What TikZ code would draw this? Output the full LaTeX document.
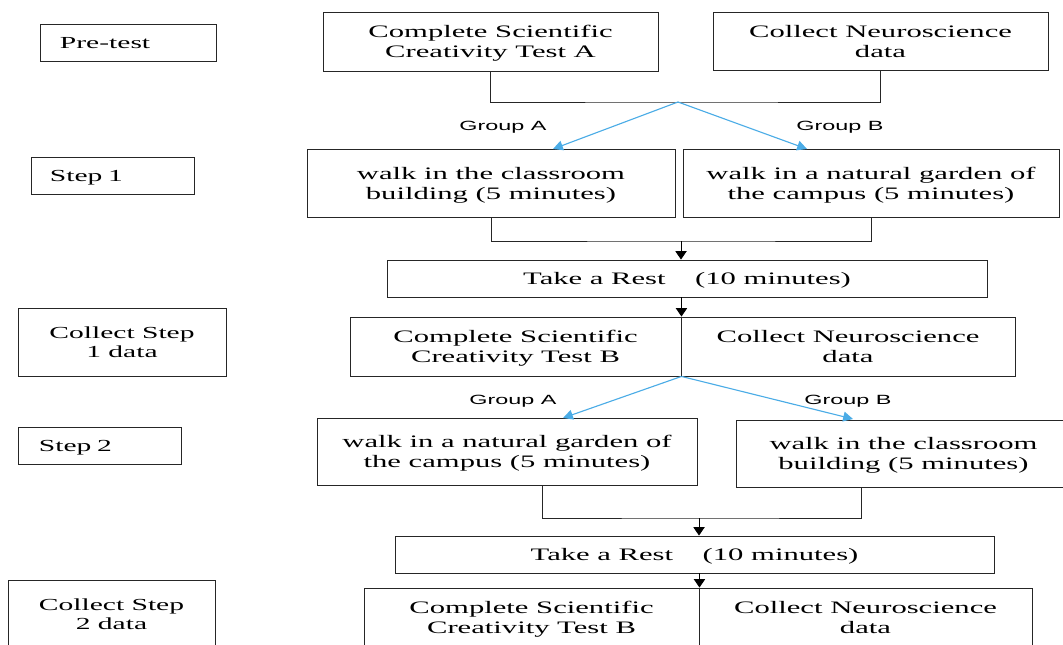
\documentclass[tikz,border=0pt]{standalone}
\usepackage{fontspec}
\setmainfont{Liberation Serif}[FakeStretch=1.75]
\newfontfamily\grpfont{Liberation Sans}[FakeStretch=1.75]
\usetikzlibrary{arrows.meta}
\definecolor{grpblue}{RGB}{75,172,230}
\tikzset{
  box/.style={draw=black!85, line width=0.6pt, inner sep=0pt, align=center, text depth=0pt,
    font=\fontsize{12.45pt}{14.2pt}\selectfont},
  sidebox/.style={box, font=\fontsize{12pt}{13.8pt}\selectfont},
  grp/.style={font=\grpfont\fontsize{9.5pt}{11pt}\selectfont},
  blu/.style={draw=grpblue, line width=0.8pt, -{Triangle[length=7pt,width=7pt]}},
  blk/.style={draw=black, line width=0.7pt, -{Triangle[length=6pt,width=8pt]}},
  lnk/.style={draw=black!85, line width=0.6pt}
}

\begin{document}
\begin{tikzpicture}[x=0.025cm, y=-0.025cm]
  \useasboundingbox (0,0) rectangle (1063,644);
  \clip (0,0) rectangle (1063,644);
  % stage names on the left
  \node[sidebox, align=left, text width=3.4cm, inner xsep=0.5cm, minimum height=0.925cm] (pre) at (128,43) {Pre-test};
  \node[sidebox, align=left, text width=3.125cm, inner xsep=0.475cm, minimum height=0.925cm] (st1) at (112.5,175.8) {Step 1};
  \node[sidebox, minimum width=5.2cm, minimum height=1.7cm] (cs1) at (122,342) {Collect Step\\1 data};
  \node[sidebox, align=left, text width=3.025cm, inner xsep=0.525cm, minimum height=0.925cm] (st2) at (99.5,445.5) {Step 2};
  \node[sidebox, minimum width=5.175cm, minimum height=1.7cm] (cs2) at (111.5,614) {Collect Step\\2 data};

  % procedure
  \node[box, minimum width=8.375cm, minimum height=1.475cm] (tA) at (490.5,41.5) {Complete Scientific\\Creativity Test A};
  \node[box, minimum width=8.375cm, minimum height=1.45cm] (nd1) at (880.5,41) {Collect Neuroscience\\data};
  \node[box, minimum width=9.2cm, minimum height=1.7cm] (wc1) at (491,183) {walk in the classroom\\building (5 minutes)};
  \node[box, minimum width=9.4cm, minimum height=1.7cm] (wg1) at (871,183) {walk in a natural garden of\\the campus (5 minutes)};
  \node[box, minimum width=15cm, minimum height=0.925cm] (rst1) at (687,278.5) {Take a Rest\hspace{21pt}(10 minutes)};
  \node[box, minimum width=8.275cm, minimum height=1.475cm] (tB1) at (515.5,346.5) {Complete Scientific\\Creativity Test B};
  \node[box, minimum width=8.35cm, minimum height=1.475cm] (nd2) at (848,346.5) {Collect Neuroscience\\data};
  \node[box, minimum width=9.5cm, minimum height=1.675cm] (wg2) at (507,451.5) {walk in a natural garden of\\the campus (5 minutes)};
  \node[box, minimum width=8.375cm, minimum height=1.675cm] (wc2) at (903.5,453.5) {walk in the classroom\\building (5 minutes)};
  \node[box, minimum width=14.975cm, minimum height=0.925cm] (rst2) at (694.5,554.5) {Take a Rest\hspace{21pt}(10 minutes)};
  \node[box, minimum width=8.375cm, minimum height=1.475cm] (tB2) at (531.5,617.5) {Complete Scientific\\Creativity Test B};
  \node[box, minimum width=8.325cm, minimum height=1.475cm] (nd3) at (865.5,617.5) {Collect Neuroscience\\data};

  % joints
  \coordinate (sp1) at (678,102);
  \coordinate (hA1) at (553,149);
  \coordinate (hB1) at (807,149);
  \coordinate (jn1) at (681,241);
  \coordinate (hA2) at (563,418);
  \coordinate (hB2) at (853,419);
  \coordinate (lf2) at (542,485);
  \coordinate (rt2) at (861,487);
  \coordinate (jn2) at (699,518);

  \draw[lnk] (tA.south) |- (sp1) -| (nd1.south);
  \draw[blu] (sp1) -- (hA1);
  \draw[blu] (sp1) -- (hB1);
  \node[grp] (gA1) at (503,127) {Group A};
  \node[grp] (gB1) at (840,127) {Group B};

  \draw[lnk] (wc1.south) |- (jn1) -| (wg1.south);
  \draw[blk] (jn1) -- (jn1 |- rst1.north);
  \draw[blk] (rst1.south -| tB1.north east) -- (tB1.north east);

  \draw[blu] (tB1.south east) -- (hA2);
  \draw[blu] (tB1.south east) -- (hB2);
  \node[grp] (gA2) at (513,401) {Group A};
  \node[grp] (gB2) at (848,401) {Group B};

  \draw[lnk] (lf2) |- (jn2) -| (rt2);
  \draw[blk] (jn2) -- (jn2 |- rst2.north);
  \draw[blk] (rst2.south -| tB2.north east) -- (tB2.north east);
\end{tikzpicture}
\end{document}
